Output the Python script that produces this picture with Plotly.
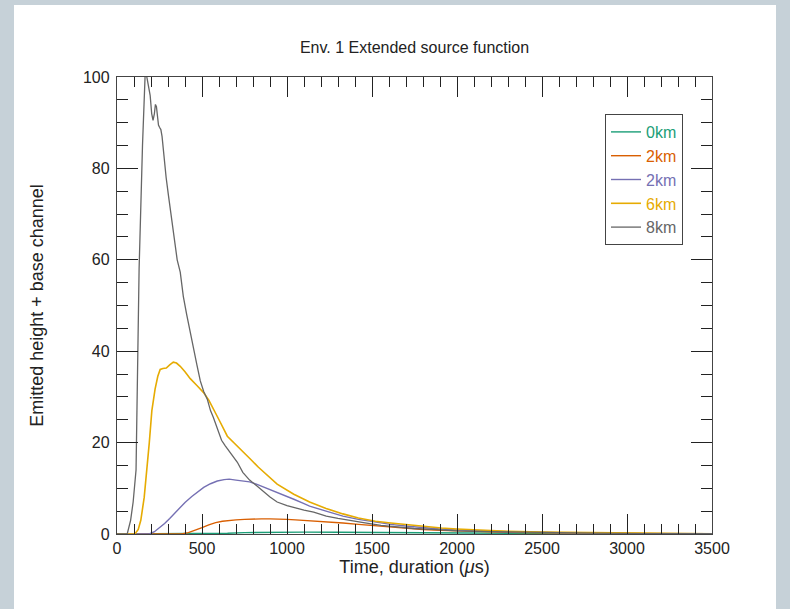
import plotly.graph_objects as go

# ---- data ----
series_names = ["0km", "2km", "2km", "6km", "8km"]
series_colors = ["#1b9e77", "#d95f02", "#7570b3", "#e6ab02", "#666666"]

t_0km = [0, 550, 650, 750, 900, 1100, 1300, 1500, 1700, 1900, 2100, 2400, 2800, 3200, 3500]
v_0km = [0, 0, 0.15, 0.3, 0.4, 0.4, 0.38, 0.32, 0.25, 0.2, 0.15, 0.1, 0.06, 0.03, 0.02]

t_2km_a = [0, 380, 420, 460, 500, 540, 580, 620, 660, 700, 750, 800, 850, 900, 950, 1000, 1050,
           1100, 1150, 1230, 1329, 1420, 1520, 1610, 1711, 1800, 1900, 2000, 2100, 2250, 2400,
           2600, 2800, 3000, 3250, 3500]
v_2km_a = [0, 0, 0.3, 0.8, 1.4, 2.0, 2.5, 2.8, 3.0, 3.1, 3.2, 3.3, 3.3, 3.3, 3.3, 3.2, 3.1,
           3.0, 2.9, 2.7, 2.4, 2.1, 1.8, 1.5, 1.2, 1.0, 0.8, 0.65, 0.5, 0.4, 0.3,
           0.2, 0.15, 0.1, 0.07, 0.05]

t_2km_b = [0, 190, 220, 250, 280, 310, 340, 370, 400, 440, 480, 510, 550, 590, 630, 660, 700,
           740, 780, 820, 860, 900, 942, 990, 1040, 1090, 1133, 1230, 1329, 1420, 1520, 1610,
           1711, 1800, 1900, 2000, 2100, 2300, 2500, 2750, 3000, 3250, 3500]
v_2km_b = [0, 0, 0.5, 1.3, 2.3, 3.4, 4.6, 5.8, 6.9, 8.2, 9.4, 10.2, 11.0, 11.6, 11.9, 12.0, 11.8,
           11.6, 11.4, 10.9, 10.3, 9.8, 9.2, 8.4, 7.6, 6.8, 6.1, 5.0, 3.9, 3.2, 2.6, 2.1,
           1.7, 1.4, 1.1, 0.9, 0.7, 0.5, 0.3, 0.2, 0.1, 0.07, 0.05]

t_6km = [0, 105, 125, 140, 160, 177, 190, 205, 224, 240, 254, 270, 290, 310, 331, 350, 372, 400,
         431, 470, 508, 540, 567, 600, 649, 700, 744, 790, 832, 880, 942, 1040, 1133, 1230, 1329,
         1420, 1520, 1610, 1711, 1800, 1908, 2000, 2098, 2200, 2300, 2500, 2700, 3000, 3250, 3500]
v_6km = [0, 0, 1, 3, 8, 14.2, 20, 27, 31.7, 34.5, 36, 36.2, 36.3, 37, 37.6, 37.4, 36.7, 35.5,
         34, 32.5, 31, 29.3, 27.2, 25, 21.4, 19.6, 17.9, 16.2, 14.6, 12.9, 10.9, 8.7, 7.0, 5.6, 4.4,
         3.5, 2.8, 2.4, 2.0, 1.6, 1.3, 1.1, 0.9, 0.75, 0.6, 0.4, 0.3, 0.15, 0.1, 0.05]

t_8km = [0, 60, 80, 95, 112, 130, 150, 165, 173, 185, 195, 204, 212, 220, 226, 232, 238, 244, 250,
         258, 265, 275, 289, 303, 318, 330, 342, 354, 372, 390, 410, 431, 450, 470, 490, 510, 531,
         550, 567, 590, 615, 637, 665, 690, 708, 740, 780, 820, 860, 900, 942, 1000, 1050, 1100,
         1157, 1231, 1300, 1358, 1450, 1553, 1650, 1747, 1850, 2000, 2200, 2500, 2800, 3100, 3500]
v_8km = [0, 0, 3, 7, 14, 58, 85, 100, 100.5, 98, 96, 92, 90.5, 92, 94, 93.5, 91, 89.5, 89,
         88.5, 87, 83, 78, 74, 70, 66, 63, 60, 57.3, 52, 48, 44, 40, 37, 33.5, 31.2, 29.5,
         27, 25.5, 23, 20.5, 19.3, 17.8, 16.5, 15.7, 13.5, 11.8, 10.6, 9.3, 8.1, 7.0, 6.2, 5.7, 5.2,
         4.8, 3.9, 3.4, 3.0, 2.5, 1.9, 1.5, 1.2, 1.0, 0.7, 0.5, 0.3, 0.2, 0.1, 0.05]

series_t = [t_0km, t_2km_a, t_2km_b, t_6km, t_8km]
series_v = [v_0km, v_2km_a, v_2km_b, v_6km, v_8km]
series_widths = [1.4, 1.4, 1.4, 1.6, 1.3]

x_ticks = [0, 500, 1000, 1500, 2000, 2500, 3000, 3500]
y_ticks = [0, 20, 40, 60, 80, 100]

title_text = "Env. 1 Extended source function"
x_title = "Time, duration (<i>\u03bc</i>s)"
y_title = "Emitted height + base channel"

# ---- figure ----
W, H = 790, 609
L, R, T, B = 117, 78, 77, 75
pw, ph = W - L - R, H - T - B

def px_x(p):
    return (p - L) / pw

def px_y(p):
    return (H - B - p) / ph

fig = go.Figure()
for i, (name, col, t, v, lw) in enumerate(zip(series_names, series_colors, series_t, series_v, series_widths)):
    fig.add_trace(go.Scatter(
        x=t, y=v, mode="lines",
        name=f"<span style='color:{col}'>{name}</span>",
        legendgroup=f"g{i}",
        line=dict(color=col, width=lw),
    ))

font_family = "Liberation Sans, Arial, sans-serif"
axis_color = "#444444"
tick_color = "#222222"

fig.update_layout(
    width=W, height=H,
    margin=dict(l=L, r=R, t=T, b=B, autoexpand=False),
    paper_bgcolor="#c6d1d8",
    plot_bgcolor="rgba(0,0,0,0)",
    font=dict(family=font_family, size=16, color="#222222"),
    title=dict(text=title_text, x=0.5, xref="paper", xanchor="center",
               y=1 - 47 / H, yanchor="middle", font=dict(size=16, color="#222222")),
    showlegend=True,
    legend=dict(
        x=px_x(605), y=px_y(114), xanchor="left", yanchor="top",
        bgcolor="white", bordercolor=axis_color, borderwidth=1,
        font=dict(size=16), tracegroupgap=0, itemwidth=30,
    ),
    shapes=[dict(type="rect", xref="paper", yref="paper", layer="below",
                 x0=px_x(14), x1=px_x(776), y0=px_y(640), y1=px_y(5),
                 fillcolor="white", line=dict(width=0))],
)

fig.update_xaxes(
    range=[0, 3500], tickvals=x_ticks, ticktext=[str(v) for v in x_ticks],
    showgrid=False, zeroline=False,
    showline=True, linecolor=axis_color, linewidth=1.3, mirror="ticks",
    ticks="inside", ticklen=20, tickwidth=1.2, tickcolor=tick_color,
    minor=dict(ticks="inside", dtick=100, ticklen=10, tickwidth=1.2, tickcolor=tick_color, showgrid=False),
    title=dict(text=x_title, standoff=1, font=dict(size=18)),
    tickfont=dict(size=16),
)
fig.update_yaxes(
    range=[0, 100], tickvals=y_ticks, ticktext=[str(v) for v in y_ticks],
    showgrid=False, zeroline=False,
    showline=True, linecolor=axis_color, linewidth=1.3, mirror="ticks",
    ticks="inside", ticklen=21, tickwidth=1.2, tickcolor=tick_color,
    minor=dict(ticks="inside", dtick=5, ticklen=11, tickwidth=1.2, tickcolor=tick_color, showgrid=False),
    title=dict(text=y_title, standoff=34, font=dict(size=18)),
    tickfont=dict(size=16),
    ticklabelstandoff=3,
)

fig.write_html("out.html")
